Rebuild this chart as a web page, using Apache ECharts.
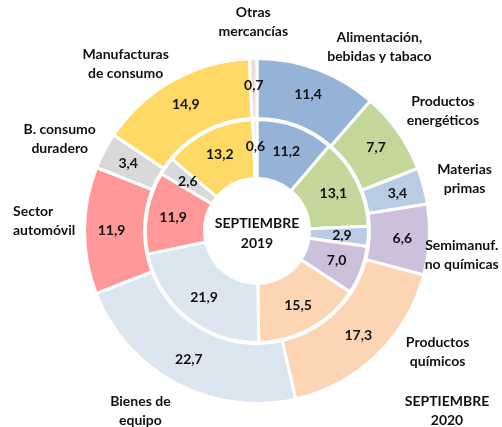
<!DOCTYPE html>
<html>
<head>
<meta charset="utf-8">
<script src="https://cdn.jsdelivr.net/npm/echarts@6/dist/echarts.min.js"></script>
<style>
  html, body { margin: 0; padding: 0; background: #fff; }
  #main { width: 502px; height: 427px; }
</style>
</head>
<body>
<div id="main"></div>
<script>
// sectores, en el sentido de las agujas del reloj desde arriba
const categories = [
  'Alimentación,\nbebidas y tabaco', 'Productos\nenergéticos', 'Materias\nprimas',
  'Semimanuf.\nno químicas', 'Productos\nquímicos', 'Bienes de\nequipo',
  'Sector\nautomóvil', 'B. consumo\nduradero', 'Manufacturas\nde consumo', 'Otras\nmercancías'
];
const values2020 = [11.4, 7.7, 3.4, 6.6, 17.3, 22.7, 11.9, 3.4, 14.9, 0.7];
const values2019 = [11.2, 13.1, 2.9, 7.0, 15.5, 21.9, 11.9, 2.6, 13.2, 0.6];
const centerLabel = 'SEPTIEMBRE\n2019';
const outerLabel = 'SEPTIEMBRE\n2020';

const colors = ['#95b3d7', '#c4d79b', '#b8cce4', '#ccc0da', '#fcd5b4',
  '#dce6f1', '#ff9999', '#d9d9d9', '#ffd966', '#f2dcdb'];
// ajuste manual de las etiquetas de nombre (como en el Excel)
const nameNudge = [[47, 17], [10, 4], [0, 4], [-10, 13], [31, -33],
  [-16, -10], [-29, -9], [-7, 8], [-26, 20], [1, 6]];

const font = 'Lato';
const fmt = v => v.toFixed(1).replace('.', ',');
const toData = vals => vals.map((v, i) => ({ value: v, name: categories[i], itemStyle: { color: colors[i] } }));

const chart = echarts.init(document.getElementById('main'));
const ring = {
  type: 'pie',
  center: [257, 231],
  startAngle: 90,
  clockwise: true,
  silent: true,
  avoidLabelOverlap: false,
  itemStyle: { borderColor: '#fff', borderWidth: 3 },
  label: {
    show: true, position: 'inside', color: '#111',
    fontFamily: font, fontWeight: 'bold', fontSize: 14,
    formatter: p => fmt(p.value)
  },
  labelLine: { show: false },
  emphasis: { disabled: true }
};

chart.setOption({
  animation: false,
  series: [
    Object.assign({}, ring, { name: '2019', radius: [52.5, 111.5], data: toData(values2019) }),
    Object.assign({}, ring, { name: '2020', radius: [112.5, 172.5], data: toData(values2020) }),
    {
      type: 'pie',
      name: 'nombres',
      center: [257, 231],
      radius: [200, 224],
      startAngle: 90,
      silent: true,
      avoidLabelOverlap: false,
      itemStyle: { color: 'transparent', borderWidth: 0 },
      label: {
        show: true, position: 'inside', color: '#111',
        fontFamily: font, fontWeight: 'bold', fontSize: 14, lineHeight: 19,
        formatter: p => p.name
      },
      labelLine: { show: false },
      labelLayout: p => {
        const n = nameNudge[p.dataIndex];
        const out = { dx: n[0], dy: n[1] };
        if (p.dataIndex === 6) out.align = 'left';
        return out;
      },
      emphasis: { disabled: true },
      data: values2020.map((v, i) => ({ value: v, name: categories[i] }))
    }
  ],
  graphic: [
    {
      type: 'text', x: 257, y: 233,
      style: { text: centerLabel, align: 'center', verticalAlign: 'middle',
        fontFamily: font, fontWeight: 'bold', fontSize: 14, lineHeight: 20, fill: '#111' }
    },
    {
      type: 'text', x: 447, y: 411,
      style: { text: outerLabel, align: 'center', verticalAlign: 'middle',
        fontFamily: font, fontWeight: 'bold', fontSize: 14, lineHeight: 19, fill: '#111' }
    }
  ]
});
</script>
</body>
</html>
